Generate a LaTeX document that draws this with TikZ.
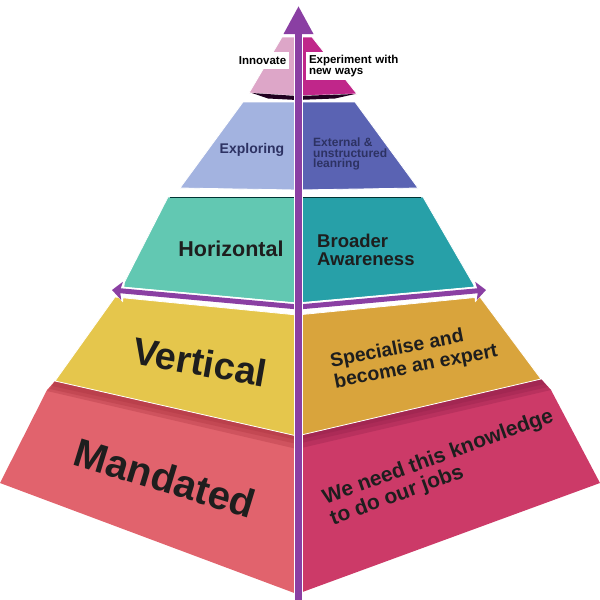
\documentclass[tikz,border=0pt]{standalone}
\usepackage{fontspec}
\setmainfont{Liberation Sans}
\usetikzlibrary{arrows.meta}
\definecolor{aone}{HTML}{DDA6C8}
\definecolor{bone}{HTML}{C0268A}
\definecolor{atwo}{HTML}{A3B3E0}
\definecolor{btwo}{HTML}{5A63B3}
\definecolor{athree}{HTML}{62C8B2}
\definecolor{bthree}{HTML}{27A0A8}
\definecolor{afour}{HTML}{E5C64C}
\definecolor{bfour}{HTML}{D9A43C}
\definecolor{afive}{HTML}{E1636D}
\definecolor{bfive}{HTML}{CC3A68}
\definecolor{bandl}{HTML}{A8303C}
\definecolor{bandr}{HTML}{8E1F48}
\definecolor{apurple}{HTML}{8A3FA3}
\definecolor{txt}{HTML}{1E1E1E}
\definecolor{navy}{HTML}{2D3263}
\newcommand\myfs[2]{\fontsize{#1}{#2}\selectfont\bfseries}
\begin{document}
\begin{tikzpicture}[x=1pt,y=-1pt,
  face/.style={draw=white,line width=0.8pt},
  band/.style={fill opacity=0.3},
  lbl/.style={inner sep=0pt,text=txt},
  whitebox/.style={fill=white,inner sep=0pt},
  varrowbg/.style={line width=9.5pt,white,-{Triangle[length=31pt,width=33pt]}},
  varrow/.style={line width=6.5pt,apurple,-{Triangle[length=28pt,width=28pt]}},
  harrowbg/.style={line width=8pt,white,line join=round,{Triangle[length=12pt,width=22pt]}-{Triangle[length=12pt,width=22pt]}},
  harrow/.style={line width=5pt,apurple,line join=miter,{Stealth[length=10pt,width=18pt,inset=2pt]}-{Stealth[length=10pt,width=18pt,inset=2pt]}}]
\useasboundingbox (0,0) rectangle (600,600);
% layer 5 (Mandated)
\fill[afive] (47,390) -- (55,381) -- (297,436) -- (297,594) -- (0,483) -- cycle;
\fill[bfive] (297,436) -- (541,379) -- (551,390) -- (600,483) -- (297,594) -- cycle;
\draw[white,line width=0.8pt] (297,440) -- (297,594);
\fill[bandl,band] (55,381) -- (297,436) -- (297,449) -- (47,391) -- cycle;
\fill[bandl,band] (55,381) -- (297,436) -- (297,444) -- (50,389) -- cycle;
\fill[bandl,band] (55,381) -- (297,436) -- (297,440) -- (52,386) -- cycle;
\fill[bandr,band] (297,436) -- (541,379) -- (551,390) -- (297,449) -- cycle;
\fill[bandr,band] (297,436) -- (541,379) -- (548,387) -- (297,444) -- cycle;
\fill[bandr,band] (297,436) -- (541,379) -- (545,384) -- (297,440) -- cycle;
% layer 4 (Vertical)
\fill[afour,face] (115,297) -- (297,315) -- (297,436) -- (55,381) -- cycle;
\fill[bfour,face] (297,315) -- (480,297) -- (541,379) -- (297,436) -- cycle;
% layer 3 (Horizontal)
\fill[athree,face] (168,197) -- (297,197) -- (297,303) -- (122,287) -- cycle;
\fill[bthree,face] (297,197) -- (423,197) -- (475,287) -- (297,303) -- cycle;
\draw[line width=1.2pt,black!60!teal] (170,197.6) -- (421,197.6);
% layer 2 (Exploring)
\fill[atwo,face] (243,102) -- (297,102) -- (297,190) -- (180,188) -- cycle;
\fill[btwo,face] (297,102) -- (355,102) -- (418,188) -- (297,190) -- cycle;
% layer 1 (Innovate)
\fill[aone,face] (282,37) -- (297,37) -- (297,96) -- (249,93) -- cycle;
\fill[bone,face] (297,37) -- (312,37) -- (357,94) -- (297,96) -- cycle;
\fill[black!75!violet] (252,93) -- (297,96) -- (355,94) -- (335,98.5) -- (297,100) -- (268,98.5) -- cycle;
% arrows
\coordinate (hl) at (112,290);
\coordinate (hc) at (298.5,307);
\coordinate (hr) at (486,290);
\draw[harrowbg] (hl) -- (hc) -- (hr);
\draw[harrow] (hl) -- (hc) -- (hr);
\coordinate (vb) at (298.5,600);
\coordinate (vt) at (298.5,6);
\coordinate (vtb) at (298.5,3);
\draw[varrowbg] (vb) -- (vtb);
\draw[varrow] (vb) -- (vt);
% labels
\node[whitebox,minimum width=53pt,minimum height=17pt,font=\myfs{11.5}{12}] (innov) at (262.5,60.5) {Innovate};
\node[whitebox,minimum width=98pt,minimum height=28pt,text width=92pt,align=left,inner xsep=3pt,font=\myfs{11.5}{11}] (exper) at (355,66) {Experiment with\\new ways};
\node[lbl,text=navy,font=\myfs{14}{14}] (explo) at (252,150) {Exploring};
\node[lbl,text=navy,anchor=west,align=left,font=\myfs{12}{10.5}] (exter) at (313,154) {External \&\\unstructured\\leanring};
\node[lbl,font=\myfs{21.5}{21.5}] (horiz) at (231,249) {Horizontal};
\node[lbl,anchor=west,align=left,font=\myfs{18.5}{17.5}] (broad) at (317,250) {Broader\\Awareness};
\node[lbl,rotate=-10,font=\myfs{38}{38}] (vert) at (200,362) {Vertical};
\node[lbl,rotate=11,align=left,font=\myfs{19.5}{21}] (spec) at (414,357) {Specialise and\\become an expert};
\node[lbl,rotate=-17,font=\myfs{40}{40}] (mand) at (165,478) {Mandated};
\node[lbl,rotate=20,align=left,font=\myfs{21}{22}] (need) at (442,468) {We need this knowledge\\to do our jobs};
\end{tikzpicture}
\end{document}
